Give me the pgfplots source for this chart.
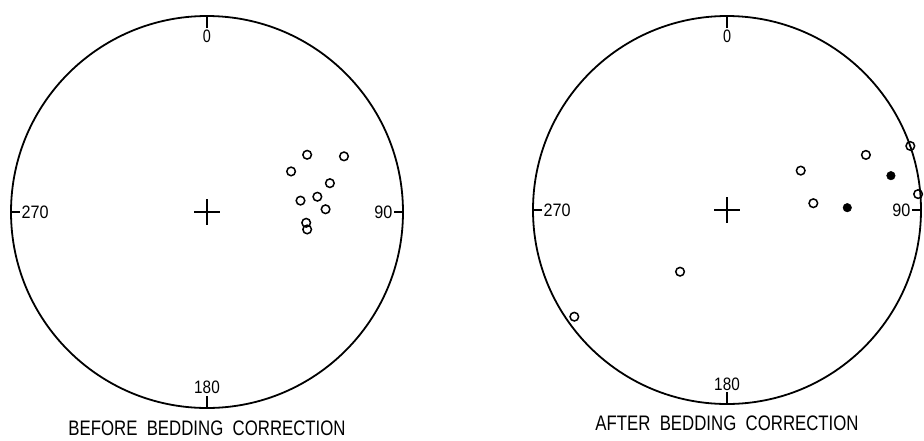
\documentclass[border=0pt]{standalone}
\usepackage{pgfplots}
\pgfplotsset{compat=1.18}
\usepackage{fontspec}
\setmainfont{Liberation Sans}
\usepackage{graphicx}
\tikzset{digit/.style={font=\fontsize{18}{20}\selectfont, inner sep=1pt},
  ttl/.style={font=\fontsize{21}{24}\selectfont, inner sep=0pt}}
\pgfplotsset{stereo/.style={hide axis, clip=false, xmin=-1,xmax=1,ymin=-1,ymax=1, scale only axis, anchor=origin}}
\begin{document}
\begin{tikzpicture}
\path[use as bounding box] (0pt,0pt) rectangle (924pt,-440pt);
% ---------------- left net ----------------
\begin{axis}[stereo, x=196pt, y=196pt, at={(207pt,-212pt)}]
\draw[line width=1.8pt] (axis cs:0,0) circle[radius=196pt];
\draw[line width=1.3pt] (axis cs:0,1) -- (axis cs:0,0.94);
\draw[line width=1.3pt] (axis cs:0,-1) -- (axis cs:0,-0.94);
\draw[line width=1.3pt] (axis cs:1,0) -- (axis cs:0.955,0);
\draw[line width=1.3pt] (axis cs:-1,0) -- (axis cs:-0.955,0);
\node[digit, anchor=north] at (axis cs:0,0.935) {\scalebox{0.8}[1]{0}};
\node[digit, anchor=south] at (axis cs:0,-0.935) {\scalebox{0.85}[1]{180}};
\node[digit, anchor=east] at (axis cs:0.952,0) {\scalebox{0.9}[1]{90}};
\node[digit, anchor=west] at (axis cs:-0.952,0) {\scalebox{0.9}[1]{270}};
\draw[line width=1.1pt] (axis cs:-0.065,0) -- (axis cs:0.065,0);
\draw[line width=1.1pt] (axis cs:0,-0.065) -- (axis cs:0,0.065);
\addplot[only marks, mark=o, mark size=4.3pt, mark options={line width=1.5pt, black}] coordinates {
(0.511,0.292) (0.699,0.284) (0.429,0.207) (0.627,0.147) (0.563,0.078)
(0.477,0.058) (0.605,0.014) (0.506,-0.055) (0.511,-0.089)};
\node[ttl] at (axis cs:0,-1.103) {\scalebox{0.8}[1]{BEFORE\ \ BEDDING\ \ CORRECTION}};
\end{axis}
% ---------------- right net ----------------
\begin{axis}[stereo, x=194pt, y=194pt, at={(727pt,-210pt)}]
\draw[line width=1.8pt] (axis cs:0,0) circle[radius=194pt];
\draw[line width=1.3pt] (axis cs:0,1) -- (axis cs:0,0.94);
\draw[line width=1.3pt] (axis cs:0,-1) -- (axis cs:0,-0.94);
\draw[line width=1.3pt] (axis cs:1,0) -- (axis cs:0.955,0);
\draw[line width=1.3pt] (axis cs:-1,0) -- (axis cs:-0.955,0);
\node[digit, anchor=north] at (axis cs:0,0.935) {\scalebox{0.8}[1]{0}};
\node[digit, anchor=south] at (axis cs:0,-0.935) {\scalebox{0.85}[1]{180}};
\node[digit, anchor=east] at (axis cs:0.952,0) {\scalebox{0.9}[1]{90}};
\node[digit, anchor=west] at (axis cs:-0.952,0) {\scalebox{0.9}[1]{270}};
\draw[line width=1.1pt] (axis cs:-0.065,0) -- (axis cs:0.065,0);
\draw[line width=1.1pt] (axis cs:0,-0.065) -- (axis cs:0,0.065);
\addplot[only marks, mark=o, mark size=4.3pt, mark options={line width=1.5pt, black}] coordinates {
(0.380,0.203) (0.716,0.284) (0.945,0.330) (0.985,0.082) (0.445,0.035)
(-0.242,-0.318) (-0.787,-0.550)};
\addplot[only marks, mark=*, mark size=4.3pt, mark options={black}] coordinates {
(0.845,0.177) (0.620,0.012)};
\node[ttl] at (axis cs:0,-1.10) {\scalebox{0.8}[1]{AFTER\ \ BEDDING\ \ CORRECTION}};
\end{axis}
\end{tikzpicture}
\end{document}
